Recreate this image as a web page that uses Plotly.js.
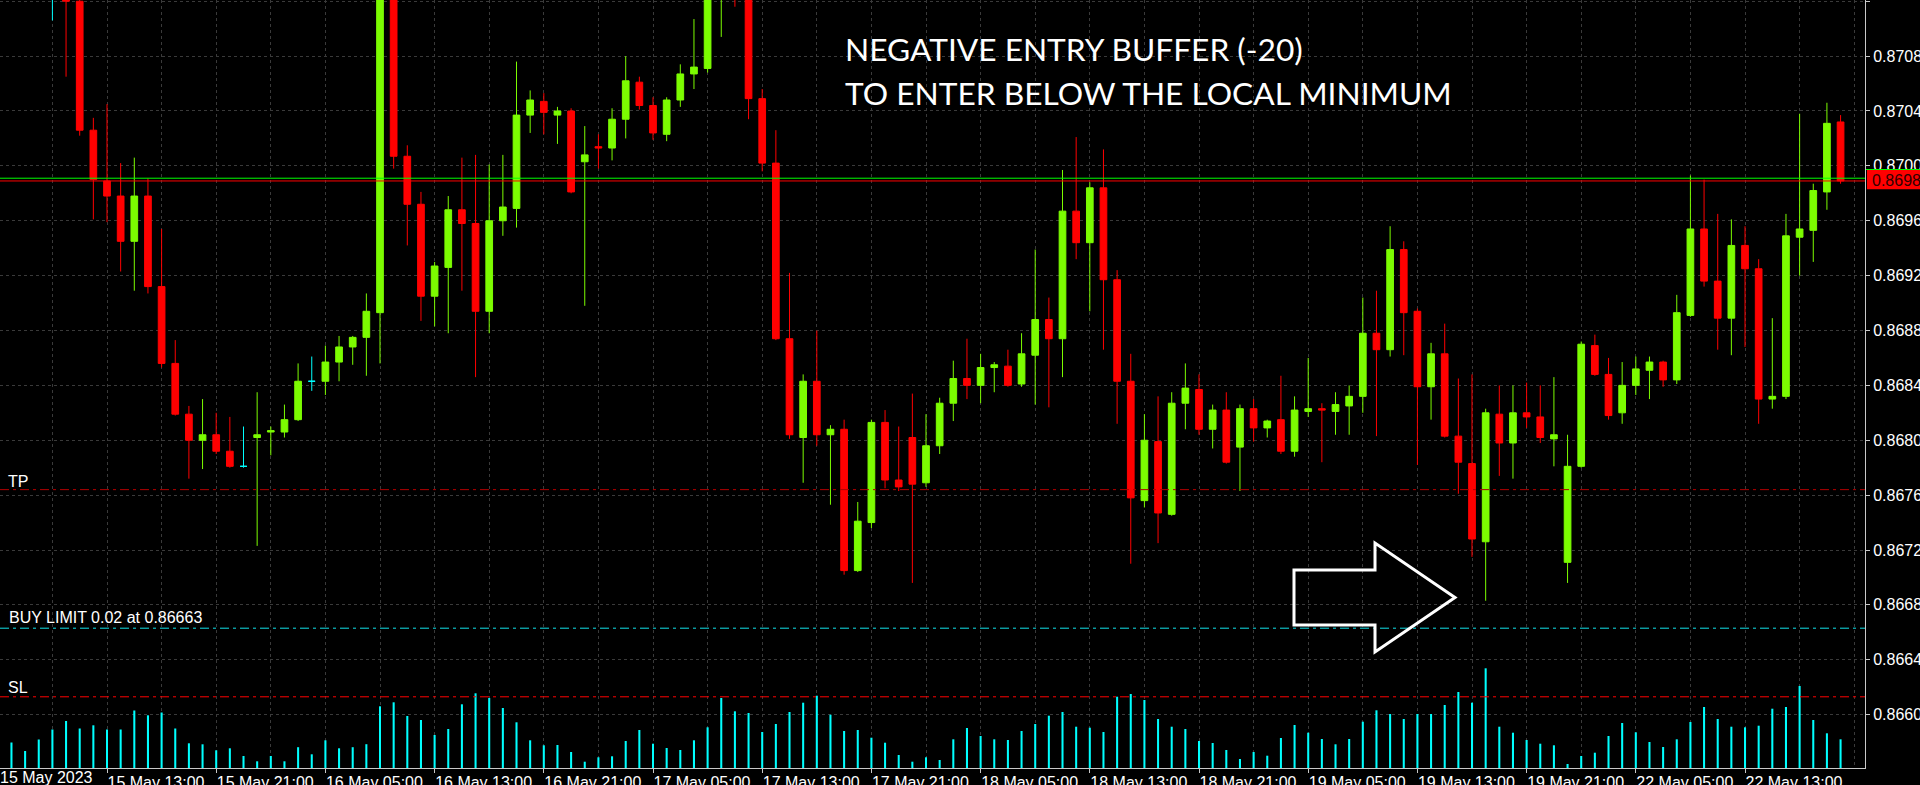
<!DOCTYPE html>
<html>
<head>
<meta charset="utf-8">
<script src="https://cdn.plot.ly/plotly-3.0.1.min.js"></script>
<style>
html,body{margin:0;padding:0;background:#000;overflow:hidden;}
#chart{width:1920px;height:785px;}
</style>
</head>
<body>
<div id="chart"></div>
<script>
// ---- DATA (H1 bars, bar index 1 = 15 May 06:00) ----
const firstBar = 1;
const open = [
0.87150,0.87160,0.87146,0.87133,0.87133,0.87120,0.87026,0.86989,0.86978,0.86945,
0.86978,0.86912,0.86856,0.86819,0.86800,0.86804,0.86792,0.86781,0.86802,0.86806,
0.86806,0.86815,0.86843,0.86843,0.86857,0.86868,0.86875,0.86893,0.87140,0.87007,
0.86972,0.86905,0.86926,0.86968,0.86958,0.86894,0.86960,0.86969,0.87037,0.87047,
0.87037,0.87040,0.87003,0.87014,0.87013,0.87034,0.87061,0.87044,0.87023,0.87048,
0.87067,0.87071,0.87135,0.87150,0.87140,0.87049,0.87002,0.86874,0.86802,0.86843,
0.86804,0.86808,0.86705,0.86740,0.86813,0.86771,0.86802,0.86769,0.86796,0.86827,
0.86845,0.86840,0.86853,0.86854,0.86841,0.86862,0.86888,0.86874,0.86967,0.86944,
0.86984,0.86917,0.86843,0.86756,0.86799,0.86746,0.86827,0.86837,0.86808,0.86822,
0.86795,0.86823,0.86809,0.86815,0.86792,0.86821,0.86823,0.86821,0.86825,0.86832,
0.86878,0.86866,0.86939,0.86894,0.86839,0.86863,0.86803,0.86783,0.86726,0.86819,
0.86798,0.86820,0.86817,0.86801,0.86711,0.86781,0.86869,0.86848,0.86820,0.86840,
0.86851,0.86857,0.86844,0.86891,0.86954,0.86916,0.86889,0.86942,0.86925,0.86830,
0.86832,0.86948,0.86953,0.86981,0.87032];
const high = [
0.87168,0.87172,0.87155,0.87140,0.87140,0.87124,0.87035,0.87045,0.87002,0.87006,
0.86991,0.86954,0.86873,0.86825,0.86830,0.86820,0.86817,0.86810,0.86835,0.86810,
0.86826,0.86856,0.86861,0.86869,0.86876,0.86876,0.86907,0.87148,0.87148,0.87015,
0.86981,0.86930,0.86978,0.87006,0.87008,0.87001,0.87008,0.87076,0.87055,0.87053,
0.87043,0.87042,0.87029,0.87023,0.87042,0.87080,0.87065,0.87050,0.87050,0.87074,
0.87107,0.87142,0.87160,0.87165,0.87145,0.87056,0.87026,0.86922,0.86848,0.86880,
0.86811,0.86815,0.86755,0.86815,0.86822,0.86810,0.86834,0.86819,0.86831,0.86858,
0.86874,0.86863,0.86857,0.86866,0.86878,0.86939,0.86904,0.86997,0.87021,0.86988,
0.87012,0.86924,0.86863,0.86819,0.86832,0.86835,0.86856,0.86848,0.86826,0.86835,
0.86826,0.86830,0.86815,0.86847,0.86832,0.86860,0.86827,0.86835,0.86840,0.86904,
0.86909,0.86956,0.86945,0.86896,0.86871,0.86885,0.86845,0.86848,0.86823,0.86840,
0.86840,0.86842,0.86840,0.86846,0.86804,0.86872,0.86877,0.86860,0.86857,0.86861,
0.86861,0.86858,0.86906,0.86993,0.86990,0.86965,0.86961,0.86956,0.86932,0.86889,
0.86965,0.87038,0.86987,0.87046,0.87037];
const low = [
0.87138,0.87140,0.87130,0.87106,0.87065,0.87022,0.86961,0.86959,0.86923,0.86909,
0.86907,0.86853,0.86818,0.86772,0.86779,0.86790,0.86780,0.86780,0.86723,0.86789,
0.86802,0.86814,0.86836,0.86833,0.86843,0.86855,0.86847,0.86856,0.86998,0.86942,
0.86887,0.86883,0.86878,0.86909,0.86846,0.86878,0.86949,0.86955,0.87024,0.87023,
0.87016,0.86980,0.86898,0.86998,0.87004,0.87020,0.87041,0.87019,0.87018,0.87043,
0.87056,0.87068,0.87094,0.87116,0.87034,0.86996,0.86873,0.86801,0.86769,0.86796,
0.86753,0.86702,0.86704,0.86736,0.86765,0.86763,0.86696,0.86766,0.86790,0.86814,
0.86830,0.86827,0.86835,0.86839,0.86839,0.86826,0.86824,0.86846,0.86932,0.86894,
0.86866,0.86812,0.86710,0.86751,0.86725,0.86745,0.86808,0.86804,0.86794,0.86783,
0.86763,0.86799,0.86802,0.86790,0.86788,0.86817,0.86784,0.86804,0.86804,0.86820,
0.86803,0.86861,0.86862,0.86782,0.86815,0.86802,0.86761,0.86715,0.86683,0.86774,
0.86772,0.86809,0.86798,0.86781,0.86696,0.86780,0.86847,0.86815,0.86812,0.86833,
0.86830,0.86839,0.86841,0.86890,0.86912,0.86866,0.86862,0.86868,0.86812,0.86823,
0.86830,0.86920,0.86930,0.86968,0.86987];
const close = [
0.87160,0.87146,0.87136,0.87133,0.87120,0.87026,0.86990,0.86978,0.86945,0.86978,
0.86912,0.86856,0.86819,0.86800,0.86804,0.86792,0.86781,0.86781,0.86804,0.86807,
0.86815,0.86843,0.86843,0.86857,0.86868,0.86875,0.86894,0.87140,0.87007,0.86972,
0.86905,0.86927,0.86968,0.86958,0.86894,0.86960,0.86970,0.87037,0.87048,0.87039,
0.87040,0.86981,0.87008,0.87013,0.87034,0.87062,0.87044,0.87024,0.87048,0.87067,
0.87072,0.87135,0.87150,0.87140,0.87049,0.87002,0.86874,0.86804,0.86843,0.86804,
0.86808,0.86705,0.86741,0.86813,0.86771,0.86766,0.86768,0.86796,0.86827,0.86845,
0.86840,0.86853,0.86855,0.86840,0.86863,0.86888,0.86874,0.86967,0.86944,0.86984,
0.86917,0.86843,0.86758,0.86800,0.86747,0.86827,0.86838,0.86808,0.86822,0.86784,
0.86823,0.86809,0.86814,0.86792,0.86822,0.86823,0.86822,0.86826,0.86832,0.86878,
0.86866,0.86939,0.86893,0.86839,0.86863,0.86803,0.86784,0.86728,0.86820,0.86798,
0.86820,0.86817,0.86802,0.86804,0.86781,0.86870,0.86848,0.86818,0.86840,0.86852,
0.86857,0.86844,0.86893,0.86954,0.86916,0.86889,0.86942,0.86925,0.86830,0.86832,
0.86949,0.86954,0.86982,0.87031,0.86989];
const volume = [
255,170,285,385,470,395,427,385,385,575,
527,555,395,247,237,177,197,120,67,120,
67,208,137,277,197,208,238,617,657,520,
480,330,390,637,747,700,600,457,277,227,
230,160,63,107,117,270,380,243,200,180,
277,407,700,567,550,360,440,560,653,723,
533,370,380,303,253,130,63,107,80,287,
400,320,287,280,370,440,523,560,413,403,
360,713,740,680,490,413,390,270,250,180,
90,160,123,300,430,353,290,237,290,463,
577,540,490,540,540,630,760,653,997,413,
353,280,243,227,40,120,153,320,450,357,
260,210,287,460,610,490,413,407,423,593,
610,820,480,347,287];
const tickIdx = [8,16,24,32,40,48,56,64,72,80,88,96,104,112,120,128];
const tickText = ["15 May 13:00","15 May 21:00","16 May 05:00","16 May 13:00","16 May 21:00",
"17 May 05:00","17 May 13:00","17 May 21:00","18 May 05:00","18 May 13:00","18 May 21:00",
"19 May 05:00","19 May 13:00","19 May 21:00","22 May 05:00","22 May 13:00"];
const firstDateLabel = "15 May 2023";
const bidPrice = 0.86989;
const askPrice = 0.86991;
const tpPrice = 0.86764;
const buyLimitPrice = 0.86663;
const slPrice = 0.86613;
const buyLimitText = "BUY LIMIT 0.02 at 0.86663";
const noteLine1 = "NEGATIVE ENTRY BUFFER (-20)";
const noteLine2 = "TO ENTER BELOW THE LOCAL MINIMUM";

// ---- build traces ----
const idx = open.map((_, k) => k + firstBar);
const mainX=[],mO=[],mH=[],mL=[],mC=[];
const dojiX=[],dO=[],dH=[],dL=[],dC=[];
idx.forEach((x,k)=>{
  if (open[k] === close[k]) { dojiX.push(x); dO.push(open[k]); dH.push(high[k]); dL.push(low[k]); dC.push(close[k]); }
  else { mainX.push(x); mO.push(open[k]); mH.push(high[k]); mL.push(low[k]); mC.push(close[k]); }
});

const UP = '#7cfc00', DN = '#ff0000', CY = '#00ffff';
const traces = [
  {type:'candlestick', x:mainX, open:mO, high:mH, low:mL, close:mC,
   increasing:{line:{color:UP,width:1}, fillcolor:UP},
   decreasing:{line:{color:DN,width:1}, fillcolor:DN},
   hoverinfo:'none', showlegend:false},
  {type:'candlestick', x:dojiX, open:dO, high:dH, low:dL, close:dC,
   increasing:{line:{color:CY,width:1}, fillcolor:CY},
   decreasing:{line:{color:CY,width:1}, fillcolor:CY},
   hoverinfo:'none', showlegend:false},
  {type:'bar', x:idx, y:volume, yaxis:'y2', width:0.15,
   marker:{color:CY, line:{width:0}}, hoverinfo:'none', showlegend:false}
];

// ---- geometry helpers (pixel -> paper) ----
const PW = 1865, PH = 768;
const px = v => v / PW;
const py = v => 1 - v / PH;
const F = 'Liberation Sans, Arial, sans-serif';
const GRID = '#3a3a3a';
const AX = '#c8c8c8';

const arrowPts = [[1294,570],[1375,570],[1375,543],[1455,597.5],[1375,652],[1375,625],[1294,625]];
const arrowPath = 'M' + arrowPts.map(p => px(p[0]).toFixed(5)+','+py(p[1]).toFixed(5)).join(' L') + ' Z';

const hline = (y,color,dash) => ({type:'line', xref:'paper', x0:0, x1:1, yref:'y', y0:y, y1:y,
  line:{color:color, width:1, dash:dash}, layer:'above'});

const layout = {
  width:1920, height:785,
  margin:{l:0, r:55, t:0, b:17, pad:0},
  paper_bgcolor:'#000', plot_bgcolor:'#000',
  showlegend:false, hovermode:false, dragmode:false,
  xaxis:{
    range:[0.161, 136.79], type:'linear',
    tickmode:'array', tickvals:tickIdx, ticktext:tickText,
    ticks:'outside', ticklen:4, tickwidth:1, tickcolor:AX,
    showline:true, linecolor:AX, linewidth:1,
    showgrid:true, gridcolor:GRID, griddash:'3px,3px', gridwidth:1,
    minor:{tickmode:'linear', tick0:0, dtick:4, showgrid:true, gridcolor:GRID, griddash:'3px,3px', ticks:''},
    zeroline:false, rangeslider:{visible:false},
    tickfont:{family:F, size:16, color:'#ffffff'},
    ticklabelshift:49, ticklabelstandoff:-4, fixedrange:true
  },
  yaxis:{
    side:'right', range:[0.865611, 0.871209],
    tickmode:'linear', tick0:0.866, dtick:0.0004, tickformat:'.5f',
    ticks:'outside', ticklen:4, tickwidth:1, tickcolor:AX,
    showline:true, linecolor:AX, linewidth:1,
    showgrid:true, gridcolor:GRID, griddash:'3px,3px', gridwidth:1,
    zeroline:false, tickfont:{family:F, size:16, color:'#ffffff'}, fixedrange:true
  },
  yaxis2:{overlaying:'y', range:[0, 7680], visible:false, fixedrange:true},
  shapes:[
    hline(tpPrice, '#b00000', '9px,4px,3px,4px'),
    hline(buyLimitPrice, '#10e0e8', '9px,4px,3px,4px'),
    hline(slPrice, '#ff0000', '9px,4px,3px,4px'),
    hline(askPrice, '#00ff00', 'solid'),
    hline(bidPrice, '#ff0000', 'solid'),
    {type:'path', xref:'paper', yref:'paper', path:arrowPath, line:{color:'#ffffff', width:3}, fillcolor:'rgba(0,0,0,0)', layer:'above'},
    {type:'rect', xref:'paper', yref:'paper', x0:px(1867), x1:px(1925), y0:py(189.3), y1:py(170), fillcolor:'#ff0000', line:{width:0}, layer:'above'},
    {type:'line', xref:'paper', yref:'paper', x0:px(1866), x1:px(1925), y0:py(169.5), y1:py(169.5), line:{color:'#00ff00', width:1}, layer:'above'}
  ],
  annotations:[
    {xref:'paper', yref:'paper', x:px(843), y:py(49), xanchor:'left', yanchor:'middle', text:noteLine1, showarrow:false,
     font:{family:'Lato, sans-serif', size:31.7, color:'#ffffff'}},
    {xref:'paper', yref:'paper', x:px(843), y:py(93), xanchor:'left', yanchor:'middle', text:noteLine2, showarrow:false,
     font:{family:'Lato, sans-serif', size:31.7, color:'#ffffff'}},
    {xref:'paper', yref:'paper', x:px(6), y:py(481), xanchor:'left', yanchor:'middle', text:'TP', showarrow:false,
     font:{family:F, size:16, color:'#ffffff'}},
    {xref:'paper', yref:'paper', x:px(7), y:py(617.5), xanchor:'left', yanchor:'middle', text:buyLimitText, showarrow:false,
     font:{family:F, size:16, color:'#ffffff'}},
    {xref:'paper', yref:'paper', x:px(6), y:py(687.5), xanchor:'left', yanchor:'middle', text:'SL', showarrow:false,
     font:{family:F, size:16, color:'#ffffff'}},
    {xref:'paper', yref:'paper', x:px(1870), y:py(180), xanchor:'left', yanchor:'middle', text:bidPrice.toFixed(5), showarrow:false,
     font:{family:F, size:16, color:'#300000'}},
    {xref:'paper', yref:'paper', x:px(-2), y:py(777.5), xanchor:'left', yanchor:'middle', text:firstDateLabel, showarrow:false,
     font:{family:F, size:16, color:'#ffffff'}}
  ]
};

Plotly.newPlot('chart', traces, layout, {staticPlot:true, displayModeBar:false});
</script>
</body>
</html>
